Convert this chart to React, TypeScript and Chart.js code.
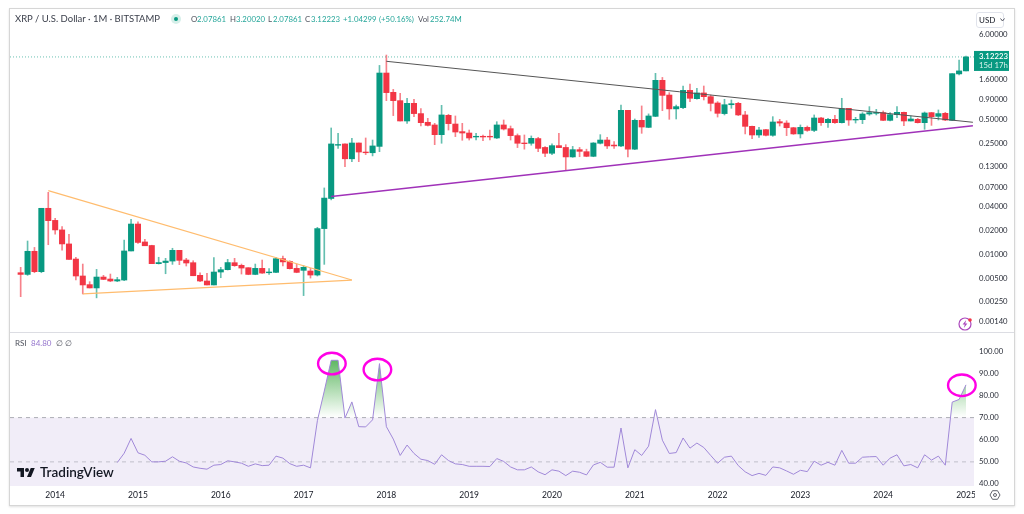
import React, { useEffect, useRef } from "react";
import { Chart, registerables } from "chart.js";

Chart.register(...registerables);

const firstCandleIndex = -5; // Aug 2013; index 0 = Jan 2014
const opens = [.00584,.00556,.0109,.00602,.0381,.0268,.0203,.0135,.0087,.00531,.00413,.00375,.00515,.00486,.00459,.00472,.011,.0241,.0143,.0129,.0076,.00785,.0082,.0112,.00845,.00782,.00541,.00459,.00409,.00596,.00638,.00782,.00724,.00676,.00556,.00663,.00584,.0059,.00879,.00812,.00663,.00626,.00614,.00546,.0211,.0507,.239,.248,.161,.255,.196,.192,.231,1.955,1.115,.875,.484,.809,.60,.466,.431,.325,.571,.443,.355,.341,.304,.31,.31,.295,.431,.387,.316,.255,.253,.29,.224,.189,.236,.224,.17,.21,.198,.173,.253,.278,.24,.234,.66,.213,.493,.402,.554,1.58,1.03,.688,.714,1.18,.926,1.095,.983,.817,.60,.777,.809,.577,.414,.322,.376,.319,.474,.456,.398,.332,.402,.368,.528,.461,.508,.461,.70,.498,.503,.593,.605,.617,.493,.582,.623,.484,.508,.461,.617,.554,.605,.493,1.905,2.07861];
const highs = [.00683,.0147,.0122,.0381,.0606,.0284,.0223,.0179,.00916,.00752,.0045,.00644,.00541,.00562,.0051,.0151,.0276,.0257,.0154,.013,.00916,.00888,.0119,.0112,.00888,.00828,.00584,.00573,.00907,.00683,.00862,.00888,.00752,.00676,.00752,.00845,.00657,.00916,.00949,.00828,.00752,.00717,.00663,.0219,.0689,.395,.338,.248,.292,.255,.295,.278,2.44,3.30,1.215,1.083,.937,.91,.695,.523,.452,.764,.588,.56,.452,.372,.338,.322,.372,.474,.498,.418,.332,.322,.313,.301,.229,.248,.338,.243,.231,.224,.213,.258,.325,.301,.265,.77,.66,.513,.75,.595,1.937,1.72,1.105,.77,1.34,1.42,1.25,1.34,1.03,.85,.91,.892,.833,.64,.418,.402,.38,.549,.508,.488,.402,.431,.418,.577,.538,.523,.571,.937,.70,.538,.617,.735,.68,.648,.617,.735,.629,.56,.523,.629,.623,.667,.623,1.92,2.855,3.2002];
const lows = [.00291,.00541,.00584,.00584,.0132,.0179,.0113,.0086,.00472,.00315,.00375,.00281,.00477,.0045,.0045,.00463,.011,.0137,.0128,.0076,.00752,.00567,.00745,.00738,.0071,.00535,.0045,.00409,.00409,.00505,.00632,.00703,.00562,.00551,.00551,.00573,.00556,.00584,.0071,.0065,.00584,.003,.005,.00531,.00745,.0487,.217,.128,.148,.148,.182,.175,.198,.875,.566,.484,.452,.549,.418,.418,.243,.253,.372,.307,.276,.278,.278,.273,.278,.29,.372,.278,.223,.213,.239,.198,.171,.182,.223,.115,.168,.171,.171,.171,.248,.217,.218,.229,.17,.21,.338,.398,.549,.654,.508,.513,.695,.85,.91,.892,.648,.543,.577,.70,.566,.332,.29,.301,.313,.31,.418,.316,.328,.295,.358,.355,.426,.402,.452,.456,.426,.456,.448,.571,.577,.488,.484,.533,.423,.484,.456,.38,.426,.498,.488,.488,1.85,2.07861];
const closes = [.00556,.0109,.00602,.0381,.0266,.0203,.0135,.0086,.00531,.00409,.00375,.00515,.00481,.00459,.00477,.011,.0241,.0141,.0128,.0076,.00785,.0082,.0112,.00837,.00775,.00535,.00459,.00409,.00596,.00638,.00785,.00717,.00669,.00556,.00663,.00578,.00596,.00879,.008,.00657,.0059,.00683,.00546,.0211,.0513,.248,.244,.161,.255,.196,.192,.234,1.955,1.105,.875,.484,.809,.60,.461,.426,.325,.577,.448,.351,.341,.295,.31,.304,.304,.431,.383,.316,.253,.25,.292,.218,.189,.236,.223,.17,.21,.2,.173,.255,.278,.234,.234,.66,.213,.493,.406,.56,1.58,1.02,.688,.735,1.18,.937,1.095,.983,.809,.605,.777,.80,.577,.414,.322,.372,.319,.47,.456,.398,.332,.402,.368,.528,.461,.508,.461,.695,.498,.508,.593,.617,.623,.493,.582,.623,.484,.513,.461,.611,.549,.60,.498,1.92,2.08,3.12223];

const rsiStartIndex = 9;
const rsiValues = [49.7,53.9,60.6,54.1,53,50,50,50.3,52.3,50.3,49.5,47.7,47.1,46.7,48.5,48.8,50.5,50,49.4,48,49.1,48.3,48.5,52.6,51.7,49.2,48,48.5,47.3,68.6,82,95.9,95.9,69.8,77.1,65.9,65.8,69,94.4,65.9,60.3,52.9,57.6,53.8,51.2,50.6,48.9,53.2,50.6,49.1,48.8,48,48,48,47.9,51.5,50.2,47.7,46.4,46.4,47.7,45.5,44.2,46.4,45.8,43.8,45.8,45.3,44.1,48.6,49.8,47.6,47.6,65.3,47.3,55.5,52.9,57.1,73.6,59.8,53.8,54.2,60.8,56.2,58.5,56.5,52.9,49.4,52.1,52.6,48.3,45.5,43.8,44.8,43.9,47.7,47.3,45.9,44.4,46.2,45.6,50.3,48.5,49.8,48.5,55.2,49.4,49.4,52.1,52.3,52.4,48.5,51.7,53.2,48.2,48.8,47.3,53.2,50.8,52.6,48.5,77,78.2,84.8];

const priceTicks = [6, 1.6, 0.9, 0.5, 0.25, 0.13, 0.07, 0.04, 0.02, 0.01, 0.005, 0.0025, 0.0014];
const rsiTicks = [100, 90, 80, 70, 60, 50, 40];
const yearLabels = ["2014","2015","2016","2017","2018","2019","2020","2021","2022","2023","2024","2025"];
const yearIndexes = [0,12,24,36,48,60,72,84,96,108,120,132];

const orangeUpper = [{ x: -1, y: 0.0636 }, { x: 43, y: 0.00472 }];
const orangeLower = [{ x: 4, y: 0.00315 }, { x: 43, y: 0.00472 }];
const blackTrend = [{ x: 48, y: 2.75 }, { x: 133, y: 0.466 }];
const purpleTrend = [{ x: 40, y: 0.0536 }, { x: 133, y: 0.422 }];
const lastPrice = 3.12223;
const rsiCircles = [{ x: 40.1, y: 94.4 }, { x: 46.7, y: 91.7 }, { x: 131.4, y: 84.6 }];

const GREEN = "#089981";
const RED = "#f23645";
const FONT = "Lato, 'Noto Sans', sans-serif";
const xMin = -6.546;
const xMax = 133.16;

const candleX = (i: number) => firstCandleIndex + i;
const color = (i: number) => (closes[i] >= opens[i] ? GREEN : RED);

const priceTag = {
  id: "priceTag",
  afterDraw(chart: any) {
    const { ctx, chartArea } = chart;
    const y = chart.scales.y.getPixelForValue(lastPrice);
    ctx.save();
    ctx.fillStyle = GREEN;
    ctx.fillRect(chartArea.right, y - 6, 35, 20);
    ctx.fillStyle = "#fff";
    ctx.font = `600 7.8px ${FONT}`;
    ctx.textAlign = "left";
    ctx.textBaseline = "middle";
    ctx.fillText("3.12223", chartArea.right + 5, y - 0.5);
    ctx.font = `7.8px ${FONT}`;
    ctx.fillStyle = "#d5f0ea";
    ctx.fillText("15d 17h", chartArea.right + 5, y + 8.5);
    ctx.restore();
  },
};

const rsiDecor = {
  id: "rsiDecor",
  beforeDatasetsDraw(chart: any) {
    const { ctx, chartArea } = chart;
    const y70 = chart.scales.y.getPixelForValue(70);
    ctx.save();
    ctx.fillStyle = "rgba(126,87,194,0.11)";
    ctx.fillRect(chartArea.left, y70, chartArea.width, chartArea.bottom - y70);
    ctx.restore();
  },
  afterDatasetsDraw(chart: any) {
    const { ctx } = chart;
    ctx.save();
    ctx.strokeStyle = "#ff00e6";
    ctx.lineWidth = 2.4;
    for (const c of rsiCircles) {
      ctx.beginPath();
      ctx.ellipse(chart.scales.x.getPixelForValue(c.x), chart.scales.y.getPixelForValue(c.y), 13.8, 10.8, 0, 0, Math.PI * 2);
      ctx.stroke();
    }
    ctx.restore();
  },
  afterDraw(chart: any) {
    const { ctx, chartArea } = chart;
    ctx.save();
    ctx.fillStyle = "#fff";
    ctx.fillRect(chartArea.right + 1, chartArea.bottom, 38, 18);
    ctx.restore();
  },
};

const labelStyle = { color: "#2a2e39", font: { family: FONT, size: 7.7 } };
const fitY = (s: any) => { s.width = 50; s.paddingTop = 0; s.paddingBottom = 0; };

export default function App() {
  const priceRef = useRef<HTMLCanvasElement>(null);
  const rsiRef = useRef<HTMLCanvasElement>(null);

  useEffect(() => {
    const line = (data: any[], c: string, w: number, extra: any = {}) => ({
      type: "line", data, borderColor: c, borderWidth: w, pointRadius: 0, fill: false, order: 0, ...extra,
    });
    const price = new Chart(priceRef.current!, {
      type: "bar",
      data: {
        datasets: [
          {
            data: opens.map((_, i) => ({ x: candleX(i), y: [lows[i], highs[i]] })),
            backgroundColor: opens.map((_, i) => color(i) + "a0"),
            barThickness: 1, grouped: false, order: 3,
          },
          {
            data: opens.map((o, i) => ({ x: candleX(i), y: [o, closes[i]] })),
            backgroundColor: opens.map((_, i) => color(i)),
            barThickness: 5.4, grouped: false, order: 2,
          },
          line(orangeUpper, "#ffbc6e", 1.2),
          line(orangeLower, "#ffbc6e", 1.2),
          line(blackTrend, "#555555", 1),
          line(purpleTrend, "#a032b9", 1.5),
          line([{ x: xMin, y: lastPrice }, { x: xMax, y: lastPrice }], "rgba(8,153,129,0.6)", 1, { borderDash: [1, 2] }),
        ] as any,
      },
      options: {
        animation: false, responsive: false, maintainAspectRatio: false,
        layout: { padding: { left: 10, right: 0, top: 0, bottom: 0 } },
        plugins: { legend: { display: false }, tooltip: { enabled: false } },
        scales: {
          x: { type: "linear", min: xMin, max: xMax, display: false, grid: { display: false }, offset: false },
          y: {
            type: "logarithmic", position: "right", min: 0.00101, max: 12.98, bounds: "data",
            grid: { display: false, drawTicks: false }, border: { display: false },
            afterBuildTicks: (s: any) => { s.ticks = priceTicks.map((value) => ({ value })); },
            afterFit: fitY,
            ticks: { ...labelStyle, crossAlign: "near", padding: 5, autoSkip: false, callback: (v: any) => Number(v).toFixed(5) },
          } as any,
        },
      } as any,
      plugins: [priceTag],
    });

    const rsiData = rsiValues.map((y, i) => ({ x: rsiStartIndex + i, y }));
    const rsi = new Chart(rsiRef.current!, {
      type: "line",
      data: {
        datasets: [
          {
            data: rsiData, borderColor: "#a088d8", borderWidth: 1, pointRadius: 0, tension: 0,
            fill: { target: { value: 70 }, above: "rgba(76,175,80,0.4)", below: "rgba(0,0,0,0)" },
          },
          line([{ x: xMin, y: 70 }, { x: xMax, y: 70 }], "rgba(120,123,134,0.6)", 1, { borderDash: [4, 4] }),
          line([{ x: xMin, y: 50 }, { x: xMax, y: 50 }], "rgba(120,123,134,0.4)", 1, { borderDash: [4, 4] }),
        ] as any,
      },
      options: {
        animation: false, responsive: false, maintainAspectRatio: false,
        layout: { padding: { left: 10, right: 0, top: 0, bottom: 0 } },
        plugins: { legend: { display: false }, tooltip: { enabled: false } },
        scales: {
          x: {
            type: "linear", min: xMin, max: xMax, grid: { display: false, drawTicks: false }, border: { display: false },
            afterBuildTicks: (s: any) => { s.ticks = yearIndexes.map((value) => ({ value })); },
            afterFit: (s: any) => { s.height = 19; s.paddingLeft = 0; s.paddingRight = 0; },
            ticks: {
              color: "#131722", font: { family: FONT, size: 8.5 }, padding: 4, autoSkip: false, maxRotation: 0,
              callback: (v: any) => yearLabels[yearIndexes.indexOf(Number(v))],
            },
          },
          y: {
            type: "linear", position: "right", min: 39.1, max: 108,
            grid: { display: false, drawTicks: false }, border: { display: false },
            afterBuildTicks: (s: any) => { s.ticks = rsiTicks.map((value) => ({ value })); },
            afterFit: fitY,
            ticks: { ...labelStyle, crossAlign: "near", padding: 5, autoSkip: false, callback: (v: any) => Number(v).toFixed(2) },
          } as any,
        },
      } as any,
      plugins: [rsiDecor],
    });
    const sy = rsi.scales.y;
    const grad = rsi.ctx.createLinearGradient(0, sy.getPixelForValue(96), 0, sy.getPixelForValue(70));
    grad.addColorStop(0, "rgba(76,175,80,0.9)");
    grad.addColorStop(1, "rgba(76,175,80,0)");
    (rsi.data.datasets[0] as any).fill.above = grad;
    rsi.update();

    return () => { price.destroy(); rsi.destroy(); };
  }, []);

  const t = (left: number, top: number, text: string, col: string, size = 7.8, extra: any = {}) => (
    <span style={{ position: "absolute", left, top, color: col, fontSize: size, fontFamily: FONT, whiteSpace: "nowrap", lineHeight: "12px", ...extra }}>{text}</span>
  );
  const up = "#26a69a";
  const g = "#50535e";

  return (
    <div style={{ position: "absolute", left: 0, top: 0, width: 1024, height: 514, overflow: "hidden", background: "#fff" }}>
      <div style={{ position: "absolute", left: 9, top: 8, width: 1004, height: 496, border: "1px solid #d6d6d6", boxShadow: "0 1px 2px rgba(0,0,0,0.12)" }} />
      <div style={{ position: "absolute", left: 10, top: 332, width: 1004, height: 1, background: "#dcdde3" }} />
      <canvas ref={priceRef} width={1024} height={325} style={{ position: "absolute", left: 0, top: 8, width: 1024, height: 325 }} />
      <canvas ref={rsiRef} width={1024} height={172} style={{ position: "absolute", left: 0, top: 333, width: 1024, height: 172 }} />

      {t(15, 13, "XRP / U.S. Dollar · 1M · BITSTAMP", "#3a3e4a", 9.5)}
      <div style={{ position: "absolute", left: 171, top: 14, width: 10, height: 10, borderRadius: 5, background: "#d6efe9" }} />
      <div style={{ position: "absolute", left: 174, top: 17, width: 4, height: 4, borderRadius: 2, background: GREEN }} />
      {t(191, 13, "O", g)}{t(197, 13, "2.07861", up)}
      {t(230, 13, "H", g)}{t(236, 13, "3.20020", up)}
      {t(268, 13, "L", g)}{t(273, 13, "2.07861", up)}
      {t(305, 13, "C", g)}{t(311, 13, "3.12223", up)}
      {t(343, 13, "+1.04299", up)}{t(379, 13, "(+50.16%)", up)}
      {t(418, 13, "Vol", g)}{t(430, 13, "252.74M", up)}

      <div style={{ position: "absolute", left: 976, top: 12, width: 28, height: 16, border: "1px solid #e0e3eb", borderRadius: 3, boxSizing: "border-box" }} />
      {t(979, 14, "USD", "#131722", 8)}
      <svg style={{ position: "absolute", left: 1000, top: 18 }} width="5" height="4" viewBox="0 0 5 4"><path d="M0.5 0.5 L2.5 3 L4.5 0.5" fill="none" stroke="#50535e" strokeWidth="1" /></svg>

      {t(15, 337, "RSI", g, 8)}{t(31, 337, "84.80", "#9575cd", 8)}{t(56, 337, "∅", g, 8)}{t(65, 337, "∅", g, 8)}

      <svg style={{ position: "absolute", left: 17, top: 466 }} width="18" height="14" viewBox="0 0 36 28"><path d="M14 22H7V11H0V4h14v18zM28 22h-8l7.5-18h8L28 22z" fill="#131722" /><circle cx="20" cy="8" r="4" fill="#131722" /></svg>
      {t(40, 466, "TradingView", "#131722", 13.5, { fontWeight: 600 })}

      <svg style={{ position: "absolute", left: 957, top: 316 }} width="16" height="16" viewBox="0 0 16 16">
        <circle cx="8" cy="8" r="6" fill="none" stroke="#ab47bc" strokeWidth="1.2" />
        <path d="M9.2 4 L5.6 8.6 H7.8 L6.8 12 L10.4 7.4 H8.2 Z" fill="#ab47bc" />
        <circle cx="13" cy="4" r="1.8" fill="#f23645" />
      </svg>
      <svg style={{ position: "absolute", left: 989, top: 490 }} width="12" height="10" viewBox="0 0 12 10">
        <path d="M3.5 0.7 H8.5 L11 5 L8.5 9.3 H3.5 L1 5 Z" fill="none" stroke="#50535e" strokeWidth="0.9" />
        <circle cx="6" cy="5" r="1.5" fill="none" stroke="#50535e" strokeWidth="0.9" />
      </svg>
    </div>
  );
}
